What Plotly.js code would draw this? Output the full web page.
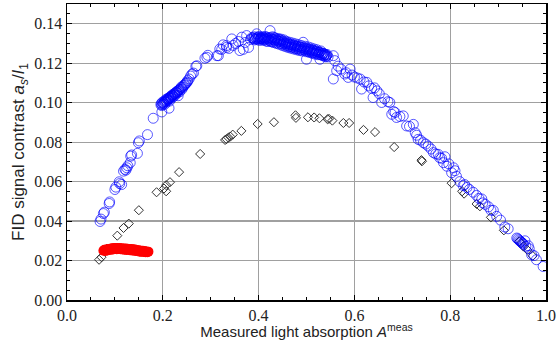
<!DOCTYPE html>
<html>
<head>
<meta charset="utf-8">
<script src="https://cdn.plot.ly/plotly-3.0.1.min.js"></script>
<style>html,body{margin:0;padding:0;background:#fff;}#chart{width:557px;height:340px;}</style>
</head>
<body>
<div id="chart"></div>
<script>
// Blue open circles
const blueX = [0.069,0.071,0.076,0.078,0.088,0.089,0.100,0.102,0.109,0.110,0.114,0.118,0.121,0.123,0.125,0.127,0.132,0.133,0.135,0.147,0.149,0.151,0.168,0.180,0.198,0.213,
0.196,0.198,0.199,0.201,0.203,0.204,0.206,0.208,0.209,0.211,0.213,0.214,0.216,0.218,0.220,0.222,0.224,0.226,0.228,0.230,0.233,0.235,0.238,0.240,0.243,0.246,0.249,0.252,0.255,0.258,0.261,0.264,
0.232,0.269,0.271,0.288,0.292,0.294,0.313,0.316,0.319,0.323,0.326,0.333,0.333,0.338,0.344,0.347,0.352,0.358,0.361,0.365,0.368,0.372,0.375,0.379,0.383,0.386,0.390,0.396,
0.392,0.395,0.398,0.400,0.402,0.404,0.406,0.408,0.410,0.412,0.414,0.416,0.418,0.420,0.422,0.424,0.425,0.427,0.429,0.431,0.433,0.435,0.437,0.439,0.441,0.443,0.445,0.447,0.449,0.451,0.453,0.455,0.457,0.459,0.461,0.463,0.465,0.467,0.469,0.471,0.473,0.475,0.477,0.479,0.481,0.483,0.485,0.487,0.489,0.491,0.493,0.495,0.497,0.499,0.500,0.502,0.504,0.506,0.508,0.510,0.512,0.514,0.516,0.518,0.520,0.522,0.524,0.526,0.528,0.530,0.532,0.534,0.536,0.538,0.540,0.542,
0.556,0.559,0.563,0.556,0.566,0.572,0.580,0.583,0.587,0.591,0.595,0.600,0.606,0.612,0.615,0.620,0.626,0.630,0.636,0.639,0.642,0.647,0.652,0.657,0.663,0.670,0.674,0.678,0.682,0.685,0.688,0.695,0.702,0.709,0.715,0.723,0.727,0.730,0.733,0.738,0.744,0.749,0.754,0.760,0.765,0.770,0.775,0.778,0.782,0.786,0.789,0.793,0.797,0.803,0.807,0.810,0.813,0.820,0.827,0.830,0.835,0.840,0.848,0.855,0.860,0.866,0.868,0.873,0.880,0.885,0.890,0.897,0.905,0.914,0.921,0.939,0.941,0.943,0.945,0.947,0.949,0.951,0.953,0.956,0.958,0.963,0.965,0.970,0.975,0.980,0.994];
const blueY = [0.0398,0.0410,0.0438,0.0445,0.0489,0.0497,0.0560,0.0572,0.0599,0.0590,0.0585,0.0653,0.0662,0.0658,0.0670,0.0680,0.0696,0.0729,0.0735,0.0743,0.0797,0.0806,0.0838,0.0921,0.0953,0.0972,
0.0990,0.0985,0.1002,0.0995,0.1008,0.0992,0.1015,0.1003,0.1020,0.1012,0.1025,0.1008,0.1032,0.1022,0.1040,0.1030,0.1046,0.1038,0.1055,0.1048,0.1062,0.1055,0.1075,0.1068,0.1085,0.1092,0.1100,0.1112,0.1120,0.1135,0.1145,0.1150,
0.1035,0.1184,0.1187,0.1225,0.1230,0.1240,0.1238,0.1238,0.1272,0.1270,0.1293,0.1289,0.1280,0.1275,0.1323,0.1290,0.1300,0.1310,0.1264,0.1332,0.1270,0.1305,0.1340,0.1280,0.1320,0.1330,0.1325,0.1349,
0.1318,0.1326,0.1320,0.1330,0.1315,0.1325,0.1332,0.1318,0.1328,0.1322,0.1335,0.1312,0.1326,0.1318,0.1330,0.1365,0.1310,0.1322,0.1334,0.1305,0.1318,0.1328,0.1300,0.1314,0.1325,0.1296,0.1310,0.1322,0.1290,0.1305,0.1318,0.1285,0.1298,0.1310,0.1280,0.1294,0.1306,0.1276,0.1290,0.1302,0.1272,0.1286,0.1298,0.1268,0.1282,0.1294,0.1264,0.1278,0.1290,0.1262,0.1306,0.1274,0.1286,0.1258,0.1220,0.1270,0.1282,0.1254,0.1266,0.1277,0.1250,0.1262,0.1272,0.1246,0.1258,0.1268,0.1243,0.1254,0.1220,0.1262,0.1240,0.1250,0.1236,0.1246,0.1232,0.1240,
0.1238,0.1213,0.1162,0.1120,0.1185,0.1170,0.1145,0.1152,0.1128,0.1170,0.1140,0.1130,0.1125,0.1120,0.1069,0.1105,0.1103,0.1085,0.1072,0.1026,0.1075,0.1060,0.1045,0.1001,0.1020,0.1005,0.1001,0.0941,0.0955,0.0950,0.0925,0.0930,0.0933,0.0882,0.0880,0.0890,0.0848,0.0835,0.0814,0.0810,0.0797,0.0790,0.0780,0.0765,0.0747,0.0740,0.0738,0.0721,0.0718,0.0696,0.0726,0.0678,0.0690,0.0645,0.0670,0.0655,0.0627,0.0600,0.0580,0.0585,0.0570,0.0560,0.0546,0.0530,0.0515,0.0512,0.0492,0.0485,0.0472,0.0455,0.0454,0.0424,0.0405,0.0370,0.0361,0.0314,0.0310,0.0305,0.0300,0.0296,0.0292,0.0288,0.0282,0.0300,0.0272,0.0275,0.0260,0.0229,0.0225,0.0204,0.0170];

// Blue open circles in the two densest stretches (more overlapping measurements)
const blueDenseX = [0.197,0.200,0.202,0.205,0.207,0.210,0.212,0.215,0.217,0.219,0.221,0.223,0.225,0.227,0.229,0.231,0.234,0.236,0.239,0.242,0.245,0.248,0.251,
0.388,0.391,0.393,0.397,0.399,0.401,0.403,0.405,0.407,0.409,0.411,0.413,0.415,0.417,0.419,0.421,0.423,0.426,0.428,0.430,0.432,0.434,0.436,0.438,0.440,0.442,0.444,0.446,0.448,0.450,0.452,0.454,0.456,0.458,0.460,0.462,0.464,0.466,0.468,0.470,0.472,0.474,0.476,0.478,0.480,0.482,0.484,0.486,0.488,0.490,0.492,0.494,0.496,0.498,0.501,0.503,0.505,0.507,0.509,0.511,0.513,0.515,0.517,0.519,0.521,0.523,0.525,0.527,0.529,0.531,0.533,0.535,0.537,0.539,0.541,0.543,0.545];
const blueDenseY = [0.0996,0.0990,0.1000,0.1004,0.1010,0.1016,0.1018,0.1024,0.1028,0.1034,0.1036,0.1040,0.1044,0.1050,0.1052,0.1058,0.1066,0.1066,0.1080,0.1078,0.1088,0.1098,0.1104,
0.1328,0.1334,0.1322,0.1331,0.1324,0.1336,0.1322,0.1328,0.1324,0.1334,0.1316,0.1328,0.1322,0.1332,0.1310,0.1324,0.1316,0.1328,0.1308,0.1320,0.1330,0.1312,0.1322,0.1304,0.1318,0.1310,0.1320,0.1300,0.1314,0.1296,0.1310,0.1300,0.1292,0.1304,0.1288,0.1300,0.1284,0.1296,0.1282,0.1294,0.1280,0.1292,0.1276,0.1288,0.1274,0.1286,0.1272,0.1284,0.1268,0.1280,0.1270,0.1280,0.1266,0.1276,0.1262,0.1274,0.1260,0.1270,0.1258,0.1268,0.1254,0.1264,0.1252,0.1262,0.1250,0.1258,0.1246,0.1256,0.1244,0.1252,0.1242,0.1250,0.1240,0.1244,0.1236,0.1244,0.1232];

// Black open diamonds
const diamondX = [0.067,0.072,0.083,0.105,0.118,0.129,0.150,0.187,0.2025,0.207,0.207,0.215,0.234,0.278,0.330,0.333,0.337,0.341,0.346,0.364,0.398,0.432,0.477,0.478,0.503,0.516,0.527,0.544,0.547,0.554,0.577,0.589,0.619,0.643,0.683,0.740,0.741,0.803,0.825,0.829,0.855,0.862,0.885,0.912,0.944,0.948,0.953,0.961,0.972];
const diamondY = [0.0204,0.0217,0.0260,0.0326,0.0365,0.0387,0.0455,0.0546,0.0565,0.0582,0.0551,0.0597,0.0648,0.0740,0.0811,0.0815,0.0823,0.0828,0.0838,0.0857,0.0892,0.0901,0.0936,0.0923,0.0926,0.0925,0.0921,0.0916,0.0918,0.0909,0.0897,0.0897,0.0862,0.0851,0.0775,0.0709,0.0703,0.0592,0.0551,0.0539,0.0487,0.0475,0.0419,0.0353,0.0297,0.0288,0.0271,0.0254,0.0224];

// Red filled circles
const redX = [0.076,0.078,0.080,0.082,0.084,0.086,0.088,0.090,0.092,0.094,0.096,0.098,0.100,0.102,0.104,0.106,0.108,0.110,0.112,0.114,0.116,0.118,0.120,0.122,0.124,0.126,0.128,0.130,0.132,0.134,0.136,0.138,0.140,0.142,0.144,0.146,0.148,0.150,0.152,0.154,0.156,0.158,0.160,0.162,0.164,0.166,0.168,0.170];
const redY = [0.0250,0.0255,0.0248,0.0256,0.0251,0.0258,0.0253,0.0260,0.0255,0.0262,0.0256,0.0264,0.0258,0.0263,0.0257,0.0264,0.0258,0.0263,0.0257,0.0262,0.0256,0.0261,0.0255,0.0261,0.0254,0.0260,0.0253,0.0259,0.0252,0.0258,0.0251,0.0257,0.0250,0.0256,0.0248,0.0254,0.0247,0.0252,0.0245,0.0250,0.0244,0.0249,0.0243,0.0248,0.0242,0.0246,0.0242,0.0245];

const xTicks = [0.0,0.2,0.4,0.6,0.8,1.0];
const xTickText = ['0.0','0.2','0.4','0.6','0.8','1.0'];
const yTicks = [0.00,0.02,0.04,0.06,0.08,0.10,0.12,0.14];
const yTickText = ['0.00','0.02','0.04','0.06','0.08','0.10','0.12','0.14'];

const blueStyle = {symbol:'circle-open', size:10, color:'rgba(0,0,255,0.65)', line:{width:1}};
const traces = [
  {x: diamondX, y: diamondY, type:'scatter', mode:'markers',
   marker:{symbol:'diamond-open', size:7, color:'rgb(50,50,50)', line:{width:1}}},
  {x: blueX, y: blueY, type:'scatter', mode:'markers', marker:blueStyle},
  {x: blueDenseX, y: blueDenseY, type:'scatter', mode:'markers', marker:blueStyle},
  {x: redX, y: redY, type:'scatter', mode:'markers',
   marker:{symbol:'circle', size:10, color:'rgb(255,0,0)'}}
];

const axisCommon = {
  showline:true, linecolor:'black', linewidth:1.5, mirror:'allticks',
  ticks:'inside', ticklen:5, tickcolor:'black', tickwidth:1,
  showgrid:true, gridcolor:'rgb(160,160,160)', gridwidth:1.2,
  zeroline:false,
  tickfont:{family:'Liberation Serif, Times New Roman, serif', size:16, color:'#222'}
};

const layout = {
  width:557, height:340,
  margin:{l:67, r:11, t:4, b:40},
  paper_bgcolor:'white', plot_bgcolor:'white',
  showlegend:false,
  xaxis: Object.assign({}, axisCommon, {
    range:[0,1], tickvals:xTicks, ticktext:xTickText,
    minor:{dtick:0.05, ticks:'inside', ticklen:3, tickcolor:'black', showgrid:false},
    title:{text:'Measured light absorption <i>A</i><sup>meas</sup>', standoff:0,
      font:{family:'Liberation Sans, Arial, sans-serif', size:15, color:'#222'}}
  }),
  yaxis: Object.assign({}, axisCommon, {
    range:[0,0.15], tickvals:yTicks, ticktext:yTickText, ticklabelstandoff:0,
    minor:{dtick:0.005, ticks:'inside', ticklen:3, tickcolor:'black', showgrid:false},
    title:{text:'FID signal contrast <i>a</i><sub><i>s</i></sub>/<i>I</i><sub>1</sub>', standoff:5,
      font:{family:'Liberation Sans, Arial, sans-serif', size:17, color:'#222'}}
  })
};

Plotly.newPlot('chart', traces, layout, {displayModeBar:false, staticPlot:true});
</script>
</body>
</html>
